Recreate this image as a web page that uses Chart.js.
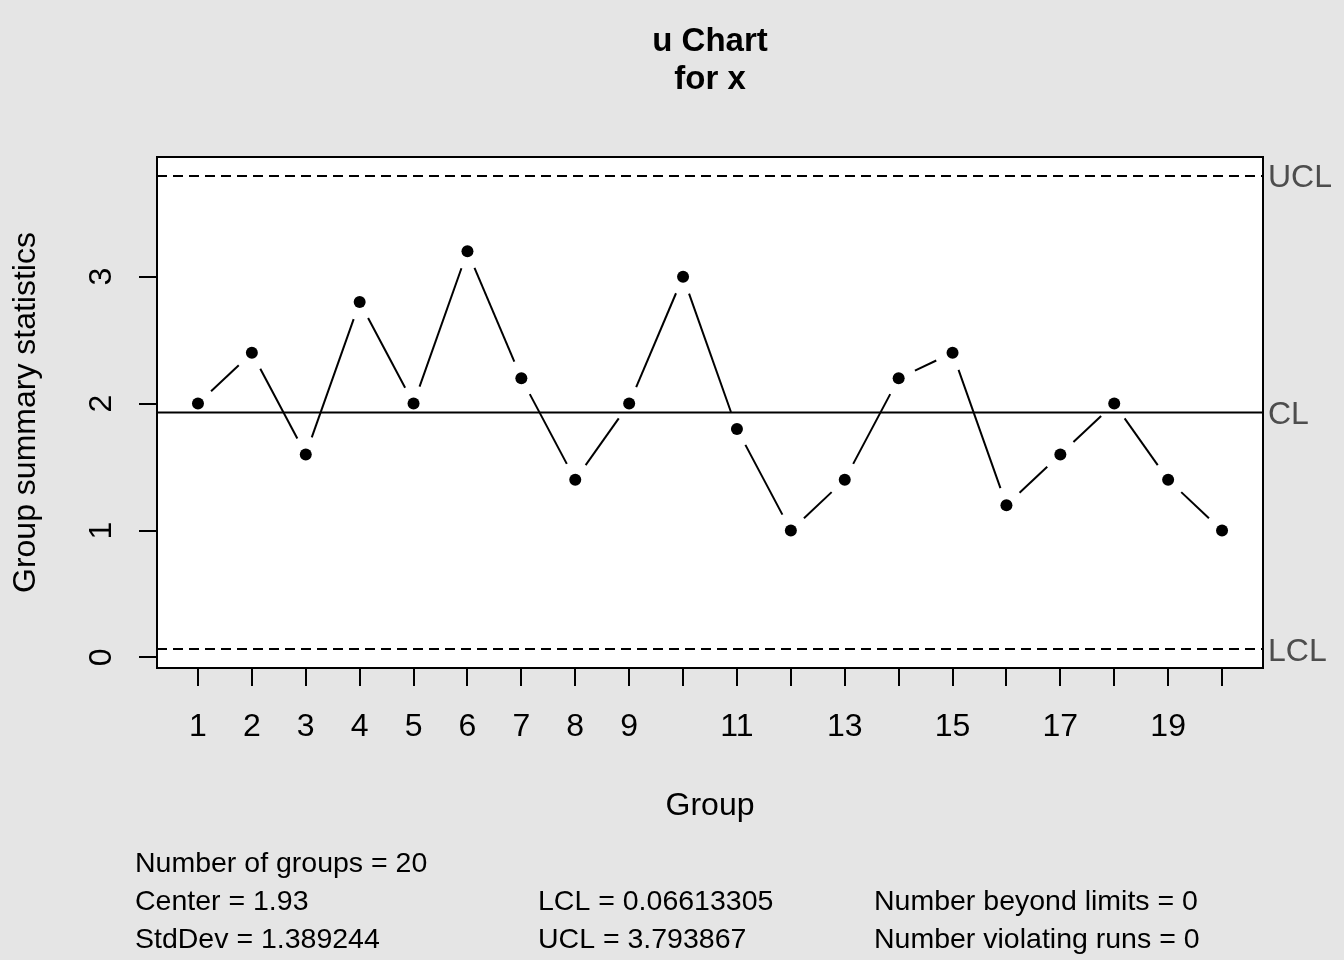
<!DOCTYPE html>
<html>
<head>
<meta charset="utf-8">
<script src="https://cdn.jsdelivr.net/npm/chart.js@4.4.1/dist/chart.umd.min.js"></script>
<style>
  body { margin: 0; background: #e5e5e5; }
  #wrap { width: 1344px; height: 960px; }
</style>
</head>
<body>
<div id="wrap"><canvas id="u-chart" width="1344" height="960"></canvas></div>
<script>
// data
var groups = [1, 2, 3, 4, 5, 6, 7, 8, 9, 10, 11, 12, 13, 14, 15, 16, 17, 18, 19, 20];
var uValues = [2.0, 2.4, 1.6, 2.8, 2.0, 3.2, 2.2, 1.4, 2.0, 3.0, 1.8, 1.0, 1.4, 2.2, 2.4, 1.2, 1.6, 2.0, 1.4, 1.0];
var xTickLabels = ["1", "2", "3", "4", "5", "6", "7", "8", "9", "", "11", "", "13", "", "15", "", "17", "", "19", ""];
var yTicks = [0, 1, 2, 3];
var center = 1.93;
var lcl = 0.06613305;
var ucl = 3.793867;
var limitNames = ["LCL", "CL", "UCL"];
var limitValues = [lcl, center, ucl];

var titleLines = ["u Chart", "for x"];
var xTitle = "Group";
var yTitle = "Group summary statistics";
var statsCol1 = ["Number of groups = 20", "Center = 1.93", "StdDev = 1.389244"];
var statsCol2 = ["", "LCL = 0.06613305", "UCL = 3.793867"];
var statsCol3 = ["", "Number beyond limits = 0", "Number violating runs = 0"];

// R style 4% axis extension
var xSpan = groups[groups.length - 1] - groups[0];
var xMin = groups[0] - 0.04 * xSpan;
var xMax = groups[groups.length - 1] + 0.04 * xSpan;
var yLo = Math.min(Math.min.apply(null, uValues), lcl);
var yHi = Math.max(Math.max.apply(null, uValues), ucl);
var yMin = yLo - 0.04 * (yHi - yLo);
var yMax = yHi + 0.04 * (yHi - yLo);

var FONT = "'Liberation Sans', Arial, Helvetica, sans-serif";

var points = groups.map(function (g, i) {
  return { x: g, y: uValues[i] };
});

function hline(v) {
  return [{ x: xMin, y: v }, { x: xMax, y: v }];
}

var qccPlugin = {
  id: "qcc",
  beforeDraw: function (chart) {
    var ctx = chart.ctx;
    var a = chart.chartArea;
    ctx.save();
    ctx.fillStyle = "#e5e5e5";
    ctx.fillRect(0, 0, chart.width, chart.height);
    ctx.fillStyle = "#ffffff";
    ctx.fillRect(a.left, a.top, a.right - a.left, a.bottom - a.top);
    ctx.restore();
  },
  afterDatasetsDraw: function (chart) {
    var ctx = chart.ctx;
    var a = chart.chartArea;
    var meta = chart.getDatasetMeta(0);
    var gap = 18;
    ctx.save();
    ctx.strokeStyle = "#000";
    ctx.lineWidth = 2;
    // type "b" style: segments stop short of each point
    for (var i = 0; i < meta.data.length - 1; i++) {
      var p0 = meta.data[i], p1 = meta.data[i + 1];
      var dx = p1.x - p0.x, dy = p1.y - p0.y;
      var d = Math.sqrt(dx * dx + dy * dy);
      if (d <= 2 * gap) continue;
      var ux = dx / d, uy = dy / d;
      ctx.beginPath();
      ctx.moveTo(p0.x + ux * gap, p0.y + uy * gap);
      ctx.lineTo(p1.x - ux * gap, p1.y - uy * gap);
      ctx.stroke();
    }
    ctx.strokeRect(a.left, a.top, a.right - a.left, a.bottom - a.top);
    ctx.restore();
  },
  afterDraw: function (chart) {
    var ctx = chart.ctx;
    var a = chart.chartArea;
    var ys = chart.scales.y;
    var midX = (a.left + a.right) / 2;
    ctx.save();
    ctx.fillStyle = "#000";

    // title
    ctx.font = "bold 33px " + FONT;
    ctx.textAlign = "center";
    ctx.textBaseline = "alphabetic";
    ctx.fillText(titleLines[0], midX, 51);
    ctx.fillText(titleLines[1], midX, 89);

    // y tick labels (rotated, like R las=0)
    ctx.font = "32px " + FONT;
    yTicks.forEach(function (v) {
      ctx.save();
      ctx.translate(111, ys.getPixelForValue(v));
      ctx.rotate(-Math.PI / 2);
      ctx.textAlign = "center";
      ctx.fillText(String(v), 0, 0);
      ctx.restore();
    });

    // axis titles
    ctx.textAlign = "center";
    ctx.fillText(xTitle, midX, 815);
    ctx.save();
    ctx.translate(35, (a.top + a.bottom) / 2);
    ctx.rotate(-Math.PI / 2);
    ctx.fillText(yTitle, 0, 0);
    ctx.restore();

    // limit labels on the right
    ctx.fillStyle = "#4d4d4d";
    ctx.font = "32px " + FONT;
    ctx.textAlign = "left";
    limitNames.forEach(function (name, i) {
      ctx.fillText(name, a.right + 5, ys.getPixelForValue(limitValues[i]) + 11.5);
    });

    // summary text
    ctx.fillStyle = "#000";
    ctx.font = "28.5px " + FONT;
    var rows = [872, 910, 948];
    statsCol1.forEach(function (t, i) { ctx.fillText(t, 135, rows[i]); });
    statsCol2.forEach(function (t, i) { ctx.fillText(t, 538, rows[i]); });
    statsCol3.forEach(function (t, i) { ctx.fillText(t, 874, rows[i]); });
    ctx.restore();
  }
};

var ctx = document.getElementById("u-chart");

window.myChart = new Chart(ctx, {
  type: "line",
  data: {
    datasets: [
      {
        label: "u",
        data: points,
        showLine: false,
        pointRadius: 6,
        pointHoverRadius: 6,
        pointBackgroundColor: "#000",
        pointBorderWidth: 0,
        borderColor: "#000",
      },
      {
        label: "UCL",
        data: hline(ucl),
        borderColor: "#000",
        borderWidth: 2,
        borderDash: [10, 6],
        pointRadius: 0,
      },
      {
        label: "CL",
        data: hline(center),
        borderColor: "#000",
        borderWidth: 2,
        pointRadius: 0,
      },
      {
        label: "LCL",
        data: hline(lcl),
        borderColor: "#000",
        borderWidth: 2,
        borderDash: [10, 6],
        pointRadius: 0,
      },
    ],
  },
  options: {
    responsive: false,
    animation: false,
    events: [],
    layout: { padding: { top: 157, right: 81, left: 0, bottom: 0 } },
    plugins: {
      legend: { display: false },
      title: { display: false },
      tooltip: { enabled: false },
    },
    scales: {
      x: {
        type: "linear",
        position: "bottom",
        min: xMin,
        max: xMax,
        afterBuildTicks: function (scale) {
          scale.ticks = groups.map(function (g) { return { value: g }; });
        },
        afterFit: function (scale) {
          scale.height = 960 - 668;
        },
        ticks: {
          autoSkip: false,
          maxRotation: 0,
          padding: 22,
          color: "#000",
          font: { family: FONT, size: 32 },
          callback: function (value, index) {
            return xTickLabels[index];
          },
        },
        grid: {
          drawOnChartArea: false,
          drawTicks: true,
          tickLength: 18,
          color: "#000",
          lineWidth: 2,
        },
        border: { display: false },
      },
      y: {
        type: "linear",
        position: "left",
        min: yMin,
        max: yMax,
        afterBuildTicks: function (scale) {
          scale.ticks = yTicks.map(function (v) { return { value: v }; });
        },
        afterFit: function (scale) {
          scale.width = 157;
        },
        ticks: { display: false },
        grid: {
          drawOnChartArea: false,
          drawTicks: true,
          tickLength: 18,
          color: "#000",
          lineWidth: 2,
        },
        border: { display: false },
      },
    },
  },
  plugins: [qccPlugin],
});
</script>
</body>
</html>
